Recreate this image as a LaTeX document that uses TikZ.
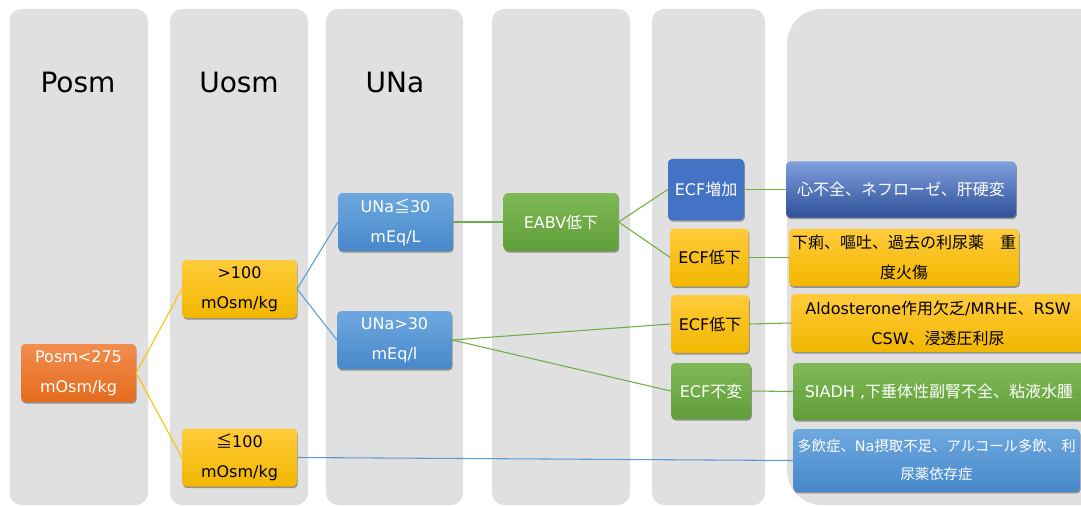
\documentclass[tikz,border=0pt]{standalone}
\usepackage{fontspec}
\setmainfont{DejaVu Sans}
\newfontfamily\latinfont{DejaVu Sans}
\newfontfamily\cjkfont{Noto Sans CJK JP}
% switch to the CJK face for kana, kanji and full-width forms
\newXeTeXintercharclass\cjkclass
\newcount\cjkcode
\newcommand\markcjk[2]{%
  \cjkcode=#1
  \loop
    \XeTeXcharclass\cjkcode=\cjkclass
    \advance\cjkcode by 1
  \ifnum\cjkcode<#2 \repeat}
\markcjk{"3000}{"3100}
\markcjk{"4E00}{"A000}
\markcjk{"FF00}{"FFF0}
\markcjk{"2266}{"2267}
\XeTeXinterchartoks 0 \cjkclass = {\cjkfont}
\XeTeXinterchartoks 4095 \cjkclass = {\cjkfont}
\XeTeXinterchartoks \cjkclass 0 = {\latinfont}
\XeTeXinterchartoks 4095 0 = {\latinfont}
\usetikzlibrary{shadows}
\definecolor{laneGray}{HTML}{E0E0E0}
\definecolor{orangeTop}{HTML}{F28D4F}
\definecolor{orangeBot}{HTML}{E46B1C}
\definecolor{yellowTop}{HTML}{FFCB3A}
\definecolor{yellowBot}{HTML}{F2B700}
\definecolor{blueTop}{HTML}{6EA8DF}
\definecolor{blueBot}{HTML}{4788CB}
\definecolor{navyTop}{HTML}{7F9FDD}
\definecolor{navyBot}{HTML}{2F4F98}
\definecolor{navyFlat}{HTML}{4472C4}
\definecolor{greenTop}{HTML}{7FBA57}
\definecolor{greenBot}{HTML}{609E38}
\definecolor{linkYellow}{HTML}{FFC000}
\definecolor{linkBlue}{HTML}{5B9BD5}
\definecolor{linkGreen}{HTML}{70AD47}
\tikzset{
  lane/.style     = {fill=laneGray, rounded corners=9pt},
  lanewide/.style = {fill=laneGray, rounded corners=26pt},
  header/.style   = {font=\fontsize{21}{25}\selectfont, text=black},
  cond/.style     = {rectangle, rounded corners=3pt, inner sep=2pt,
                     minimum width=86pt, minimum height=43.5pt,
                     align=center, font=\fontsize{12}{22.5}\selectfont,
                     drop shadow={shadow xshift=0.6pt, shadow yshift=-1.2pt,
                                  opacity=0.35, fill=black}},
  ecf/.style      = {cond, minimum width=58.5pt},
  result/.style   = {cond, minimum width=172.5pt, minimum height=42pt},
  orangeBox/.style = {top color=orangeTop, bottom color=orangeBot, text=white},
  yellowBox/.style = {top color=yellowTop, bottom color=yellowBot, text=black},
  blueBox/.style   = {top color=blueTop, bottom color=blueBot, text=white},
  navyBox/.style   = {top color=navyTop, bottom color=navyBot, text=white},
  greenBox/.style  = {top color=greenTop, bottom color=greenBot, text=white},
  posmLink/.style  = {draw=linkYellow, line width=0.8pt},
  uosmLink/.style  = {draw=linkBlue, line width=0.8pt},
  unaLink/.style   = {draw=linkGreen, line width=0.8pt}
}

\begin{document}
\XeTeXinterchartokenstate=1
\begin{tikzpicture}[x=0.75pt, y=-0.75pt]
\useasboundingbox (0,0) rectangle (1081,506);

% lanes
\fill[lane] (9.5,9) rectangle (148,505);
\fill[lane] (170,9) rectangle (308,505);
\fill[lane] (326,9) rectangle (463,505);
\fill[lane] (492,9) rectangle (630,505);
\fill[lane] (652,9) rectangle (765,505);
\fill[lanewide] (787,9) rectangle (1130,505);

\node[header] (hPosm) at (78,82) {Posm};
\node[header] (hUosm) at (239,82) {Uosm};
\node[header] (hUNa)  at (395,82) {UNa};

% step boxes
\node[cond, orangeBox] (posm) at (78.5,373) {Posm<275\\mOsm/kg};
\node[cond, yellowBox] (uhi)  at (239.5,289) {>100\\mOsm/kg};
\node[cond, yellowBox] (ulo)  at (239.5,457.5) {≦100\\mOsm/kg};
\node[cond, blueBox]   (nalo) at (395.5,222) {UNa≦30\\mEq/L};
\node[cond, blueBox]   (nahi) at (394.5,340) {UNa>30\\mEq/l};
\node[cond, greenBox]  (eabv) at (561,222) {EABV低下};

\node[ecf, fill=navyFlat, text=white, minimum width=57pt, minimum height=45.75pt]
  (ecfUp) at (706,189.5) {ECF増加};
\node[ecf, yellowBox] (ecfDownA) at (709.5,257.5) {ECF低下};
\node[ecf, yellowBox] (ecfDownB) at (710,324) {ECF低下};
\node[ecf, greenBox, minimum width=60pt, minimum height=42pt] (ecfSame) at (711,391) {ECF不変};

% causes
\node[result, navyBox] (dzUp) at (901,189.5) {心不全、ネフローゼ、肝硬変};
\node[result, yellowBox, minimum height=43pt] (dzDownA) at (904,257.5)
  {下痢、嘔吐、過去の利尿薬　重\\度火傷};
\node[result, yellowBox, minimum width=220pt, minimum height=43.5pt] (dzDownB) at (938,323)
  {Aldosterone作用欠乏/MRHE、RSW\\CSW、浸透圧利尿};
\node[result, greenBox, minimum width=219pt, minimum height=42.75pt] (dzSame) at (939,391.5)
  {SIADH ,下垂体性副腎不全、粘液水腫};
\node[result, blueBox, minimum width=215pt, minimum height=47pt,
      font=\fontsize{10.8}{21}\selectfont] (dzLow) at (936.5,460.5)
  {多飲症、Na摂取不足、アルコール多飲、利\\尿薬依存症};

% links
\draw[posmLink] (posm.east) -- (uhi.west);
\draw[posmLink] (posm.east) -- (ulo.west);
\draw[uosmLink] (uhi.east) -- (nalo.west);
\draw[uosmLink] (uhi.east) -- (nahi.west);
\draw[uosmLink] (ulo.east) -- (dzLow.west);
\draw[unaLink] (nalo.east) -- (eabv.west);
\draw[unaLink] (eabv.east) -- (ecfUp.west);
\draw[unaLink] (eabv.east) -- (ecfDownA.west);
\draw[unaLink] (nahi.east) -- (ecfDownB.west);
\draw[unaLink] (nahi.east) -- (ecfSame.west);
\draw[unaLink] (ecfUp.east) -- (dzUp.west);
\draw[unaLink] (ecfDownA.east) -- (dzDownA.west);
\draw[unaLink] (ecfDownB.east) -- (dzDownB.west);
\draw[unaLink] (ecfSame.east) -- (dzSame.west);
\end{tikzpicture}
\end{document}
